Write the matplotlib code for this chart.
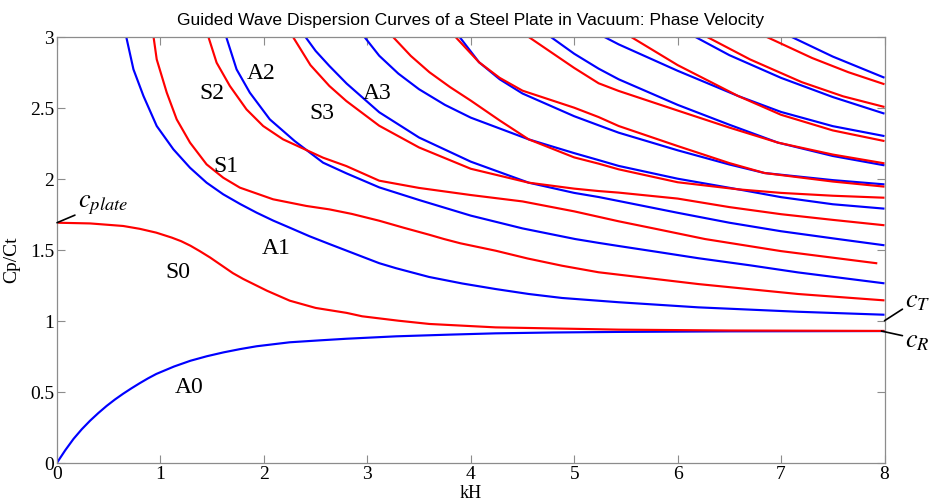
import matplotlib.pyplot as plt

# antisymmetric modes (blue): kH values and normalised phase velocity cp/ct
kh_A0 = [0.0, 0.08, 0.16, 0.24, 0.32, 0.40, 0.48, 0.56, 0.64, 0.72, 0.80, 0.88, 0.96, 1.13, 1.29, 1.45, 1.61, 1.77, 1.93, 2.25, 2.55, 2.80, 3.28, 3.8, 4.24, 4.8, 5.43, 6.5, 8.0]
cp_A0 = [0.0, 0.088, 0.168, 0.236, 0.296, 0.350, 0.40, 0.445, 0.486, 0.524, 0.56, 0.594, 0.625, 0.677, 0.718, 0.75, 0.777, 0.80, 0.82, 0.848, 0.862, 0.873, 0.89, 0.902, 0.911, 0.917, 0.921, 0.925, 0.927]

kh_A1 = [0.669, 0.739, 0.836, 0.964, 1.125, 1.286, 1.446, 1.607, 1.77, 1.929, 2.09, 2.25, 2.44, 2.633, 2.954, 3.115, 3.276, 3.597, 3.918, 4.24, 4.561, 4.883, 5.43, 6.2, 7.164, 8.0]
cp_A1 = [3.0, 2.77, 2.582, 2.371, 2.207, 2.077, 1.972, 1.89, 1.822, 1.761, 1.705, 1.655, 1.595, 1.54, 1.45, 1.405, 1.37, 1.308, 1.262, 1.223, 1.188, 1.16, 1.13, 1.094, 1.063, 1.042]

kh_A2 = [1.635, 1.736, 1.864, 2.057, 2.298, 2.572, 2.797, 3.115, 3.5, 4.0, 4.5, 5.01, 5.236, 5.43, 5.8, 6.2, 6.7, 7.164, 8.0]
cp_A2 = [3.0, 2.77, 2.606, 2.418, 2.265, 2.113, 2.038, 1.939, 1.85, 1.74, 1.65, 1.575, 1.548, 1.526, 1.485, 1.44, 1.39, 1.34, 1.263]

kh_A3 = [2.40, 2.5, 2.633, 2.8, 3.115, 3.5, 4.0, 4.56, 5.0, 5.236, 5.43, 6.0, 6.5, 7.0, 7.55, 8.0]
cp_A3 = [3.0, 2.9, 2.794, 2.67, 2.468, 2.29, 2.12, 1.972, 1.90, 1.871, 1.843, 1.76, 1.69, 1.63, 1.575, 1.531]

kh_A4 = [2.97, 3.115, 3.3, 3.5, 3.75, 4.0, 4.56, 5.0, 5.236, 5.43, 6.0, 6.586, 7.0, 7.5, 8.0]
cp_A4 = [3.0, 2.866, 2.74, 2.63, 2.52, 2.43, 2.277, 2.18, 2.131, 2.09, 2.0, 1.925, 1.87, 1.82, 1.789]

kh_A5 = [3.89, 4.08, 4.28, 4.5, 5.0, 5.236, 5.43, 6.0, 6.5, 6.84, 7.5, 8.0]
cp_A5 = [3.0, 2.82, 2.70, 2.6, 2.44, 2.376, 2.324, 2.2, 2.1, 2.04, 1.99, 1.96]

kh_A6 = [4.77, 5.0, 5.236, 5.43, 6.0, 6.5, 6.97, 7.5, 8.0]
cp_A6 = [3.0, 2.88, 2.775, 2.70, 2.52, 2.38, 2.254, 2.16, 2.094]

kh_A7 = [5.287, 5.43, 6.0, 6.586, 7.0, 7.5, 8.0]
cp_A7 = [3.0, 2.946, 2.76, 2.582, 2.47, 2.37, 2.30]

kh_A8 = [6.167, 6.5, 7.0, 7.5, 8.0]
cp_A8 = [3.0, 2.87, 2.71, 2.575, 2.458]

kh_A9 = [7.097, 7.5, 8.0]
cp_A9 = [3.0, 2.86, 2.711]

# symmetric modes (red)
kh_S0 = [0.0, 0.32, 0.64, 0.8, 0.96, 1.11, 1.20, 1.29, 1.38, 1.48, 1.61, 1.70, 1.80, 2.03, 2.25, 2.50, 2.80, 2.95, 3.3, 3.60, 4.24, 5.43, 6.5, 8.0]
cp_S0 = [1.69, 1.685, 1.667, 1.647, 1.62, 1.585, 1.56, 1.528, 1.49, 1.445, 1.38, 1.335, 1.294, 1.211, 1.141, 1.09, 1.055, 1.031, 1.0, 0.977, 0.953, 0.937, 0.931, 0.928]

kh_S1 = [0.933, 0.964, 1.061, 1.157, 1.286, 1.446, 1.607, 1.768, 2.089, 2.411, 2.633, 2.85, 3.115, 3.35, 3.6, 3.742, 3.9, 4.24, 4.55, 4.883, 5.236, 6.2, 7.164, 8.0]
cp_S1 = [3.0, 2.84, 2.606, 2.418, 2.254, 2.101, 2.007, 1.937, 1.855, 1.808, 1.784, 1.752, 1.704, 1.655, 1.605, 1.575, 1.545, 1.493, 1.438, 1.387, 1.341, 1.258, 1.188, 1.143]

kh_S2 = [1.463, 1.543, 1.671, 1.832, 1.993, 2.186, 2.572, 2.797, 3.115, 3.5, 4.0, 4.5, 5.0, 5.43, 5.8, 6.265, 7.0, 7.93]
cp_S2 = [3.0, 2.817, 2.653, 2.488, 2.371, 2.277, 2.148, 2.089, 1.986, 1.935, 1.885, 1.84, 1.77, 1.70, 1.645, 1.575, 1.49, 1.404]

kh_S3 = [2.28, 2.45, 2.633, 2.797, 3.115, 3.5, 4.0, 4.56, 5.0, 5.236, 5.43, 6.0, 6.5, 7.0, 7.5, 8.0]
cp_S3 = [3.0, 2.8, 2.653, 2.547, 2.373, 2.22, 2.07, 1.972, 1.93, 1.913, 1.902, 1.86, 1.80, 1.75, 1.71, 1.672]

kh_S4 = [3.246, 3.42, 3.6, 3.8, 4.0, 4.28, 4.56, 5.0, 5.236, 5.43, 6.0, 6.586, 7.0, 7.5, 8.0]
cp_S4 = [3.0, 2.865, 2.75, 2.645, 2.55, 2.41, 2.277, 2.15, 2.106, 2.066, 1.975, 1.925, 1.90, 1.88, 1.866]

kh_S5 = [3.85, 4.08, 4.28, 4.5, 5.0, 5.236, 5.43, 6.0, 6.5, 6.84, 7.5, 8.0]
cp_S5 = [3.0, 2.82, 2.71, 2.62, 2.5, 2.434, 2.371, 2.23, 2.11, 2.04, 1.98, 1.944]

kh_S6 = [4.556, 5.0, 5.236, 5.43, 6.0, 6.5, 6.97, 7.5, 8.0]
cp_S6 = [3.0, 2.78, 2.672, 2.618, 2.48, 2.36, 2.254, 2.17, 2.108]

kh_S7 = [5.546, 6.0, 6.586, 7.0, 7.5, 8.0]
cp_S7 = [3.0, 2.8, 2.582, 2.45, 2.34, 2.265]

kh_S8 = [6.28, 6.7, 7.2, 7.6, 8.0]
cp_S8 = [3.0, 2.84, 2.68, 2.58, 2.505]

kh_S9 = [6.856, 7.3, 7.65, 8.0]
cp_S9 = [3.0, 2.85, 2.75, 2.665]

# mode labels: text, kH, cp (baseline position)
mode_labels = ['A0', 'S0', 'A1', 'S1', 'S2', 'A2', 'S3', 'A3']
label_kh = [1.277, 1.167, 2.121, 1.630, 1.499, 1.977, 2.556, 3.098]
label_cp = [0.496, 1.306, 1.479, 2.054, 2.570, 2.711, 2.430, 2.570]

c_plate = 1.69
c_T = 1.0
c_R = 0.927

anti = [(kh_A0, cp_A0), (kh_A1, cp_A1), (kh_A2, cp_A2), (kh_A3, cp_A3), (kh_A4, cp_A4),
        (kh_A5, cp_A5), (kh_A6, cp_A6), (kh_A7, cp_A7), (kh_A8, cp_A8), (kh_A9, cp_A9)]
sym = [(kh_S0, cp_S0), (kh_S1, cp_S1), (kh_S2, cp_S2), (kh_S3, cp_S3), (kh_S4, cp_S4),
       (kh_S5, cp_S5), (kh_S6, cp_S6), (kh_S7, cp_S7), (kh_S8, cp_S8), (kh_S9, cp_S9)]

plt.rcParams['mathtext.fontset'] = 'stix'
serif = ['Liberation Serif', 'DejaVu Serif']

fig = plt.figure(figsize=(9.3, 5.02), dpi=100)
ax = fig.add_axes([0.0613, 0.0763, 0.8898, 0.8486])

for kh, cp in anti:
    ax.plot(kh, cp, color='#0000ff', lw=1.55, solid_capstyle='butt', solid_joinstyle='round')
for kh, cp in sym:
    ax.plot(kh, cp, color='#ff0000', lw=1.55, solid_capstyle='butt', solid_joinstyle='round')

ax.set_xlim(0, 8)
ax.set_ylim(0, 3)
ax.set_xticks(range(0, 9))
ax.set_yticks([0, 0.5, 1, 1.5, 2, 2.5, 3])
ax.set_yticklabels(['0', '0.5', '1', '1.5', '2', '2.5', '3'])
ax.tick_params(direction='in', length=6, width=0.8, color='#8c8c8c',
               top=True, right=True, labelsize=14, pad=2)
for lab in ax.get_xticklabels() + ax.get_yticklabels():
    lab.set_family(serif)
for sp in ax.spines.values():
    sp.set_color('#8c8c8c')
    sp.set_linewidth(0.9)

ax.set_xlabel('kH', family=serif, fontsize=13)
ax.xaxis.set_label_coords(0.5, -0.049)
ax.set_ylabel('Cp/Ct', family=serif, fontsize=14)
ax.yaxis.set_label_coords(-0.045, 0.48)
ax.set_title('Guided Wave Dispersion Curves of a Steel Plate in Vacuum: Phase Velocity',
             family=['Liberation Sans', 'DejaVu Sans'], fontsize=12.6, pad=9)

for txt, x, y in zip(mode_labels, label_kh, label_cp):
    ax.text(x, y, txt, family=serif, fontsize=17, ha='center', va='baseline')

# velocity markers with leader lines
ax.annotate(r'$c_{plate}$', xy=(0, c_plate), xytext=(0.2, 1.735), fontsize=19,
            arrowprops=dict(arrowstyle='-', color='k', lw=1.2, shrinkA=0, shrinkB=0),
            annotation_clip=False, va='bottom')
ax.annotate(r'$c_T$', xy=(8.0, c_T), xytext=(8.2, 1.06), fontsize=19,
            arrowprops=dict(arrowstyle='-', color='k', lw=1.2, shrinkA=0, shrinkB=0),
            annotation_clip=False, va='bottom')
ax.annotate(r'$c_R$', xy=(7.97, c_R), xytext=(8.2, 0.78), fontsize=19,
            arrowprops=dict(arrowstyle='-', color='k', lw=1.2, shrinkA=0, shrinkB=0),
            annotation_clip=False, va='bottom')

fig.savefig('out.png', dpi=100)
